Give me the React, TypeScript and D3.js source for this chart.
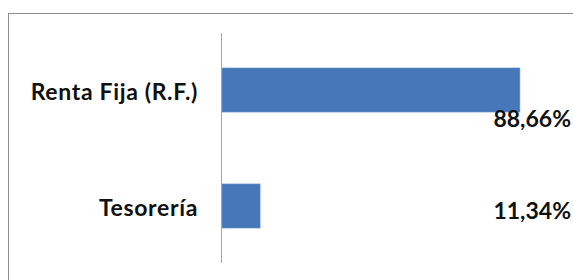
import * as d3 from 'd3';

const categories = ['Renta Fija (R.F.)', 'Tesorería'];
const shares = [0.8866, 0.1134];
const valueLabels = ['88,66%', '11,34%'];

const W = 573;
const H = 280;

export default function App() {
  const x = d3.scaleLinear().domain([0, 1]).range([222, 558]);
  const y = d3.scaleBand<string>()
    .domain(categories)
    .range([32, 264])
    .paddingInner(0.62)
    .paddingOuter(0.31);

  const font = 'Lato, "Open Sans", sans-serif';

  return (
    <svg
      width={W}
      height={H}
      style={{ position: 'absolute', left: 0, top: 0, background: '#fff' }}
    >
      {/* outer chart frame, cut off on the right and bottom */}
      <rect x={8.5} y={13.5} width={700} height={400} fill="none" stroke="#8c8c8c" strokeWidth={1} />

      {categories.map((c, i) => {
        const yb = y(c)!;
        const cy = yb + y.bandwidth() / 2;
        return (
          <g key={c}>
            <rect
              x={x(0)}
              y={yb}
              width={x(shares[i]) - x(0)}
              height={y.bandwidth()}
              fill="#4677b9"
              stroke="#6d95c9"
              strokeWidth={0.6}
            />
            <text
              x={198}
              y={cy + 1}
              textAnchor="end"
              dominantBaseline="central"
              fontFamily={font}
              fontWeight={700}
              fontSize={23}
              letterSpacing={0.65}
              fill="#111"
            >
              {c}
            </text>
            <text
              x={571}
              y={i === 0 ? cy + 28 : cy + 4}
              textAnchor="end"
              dominantBaseline="central"
              fontFamily={font}
              fontWeight={700}
              fontSize={23}
              fill="#111"
            >
              {valueLabels[i]}
            </text>
          </g>
        );
      })}

      {/* category axis */}
      <line x1={x(0) - 0.5} x2={x(0) - 0.5} y1={33} y2={263} stroke="#a6a6a6" strokeWidth={1} />
    </svg>
  );
}
